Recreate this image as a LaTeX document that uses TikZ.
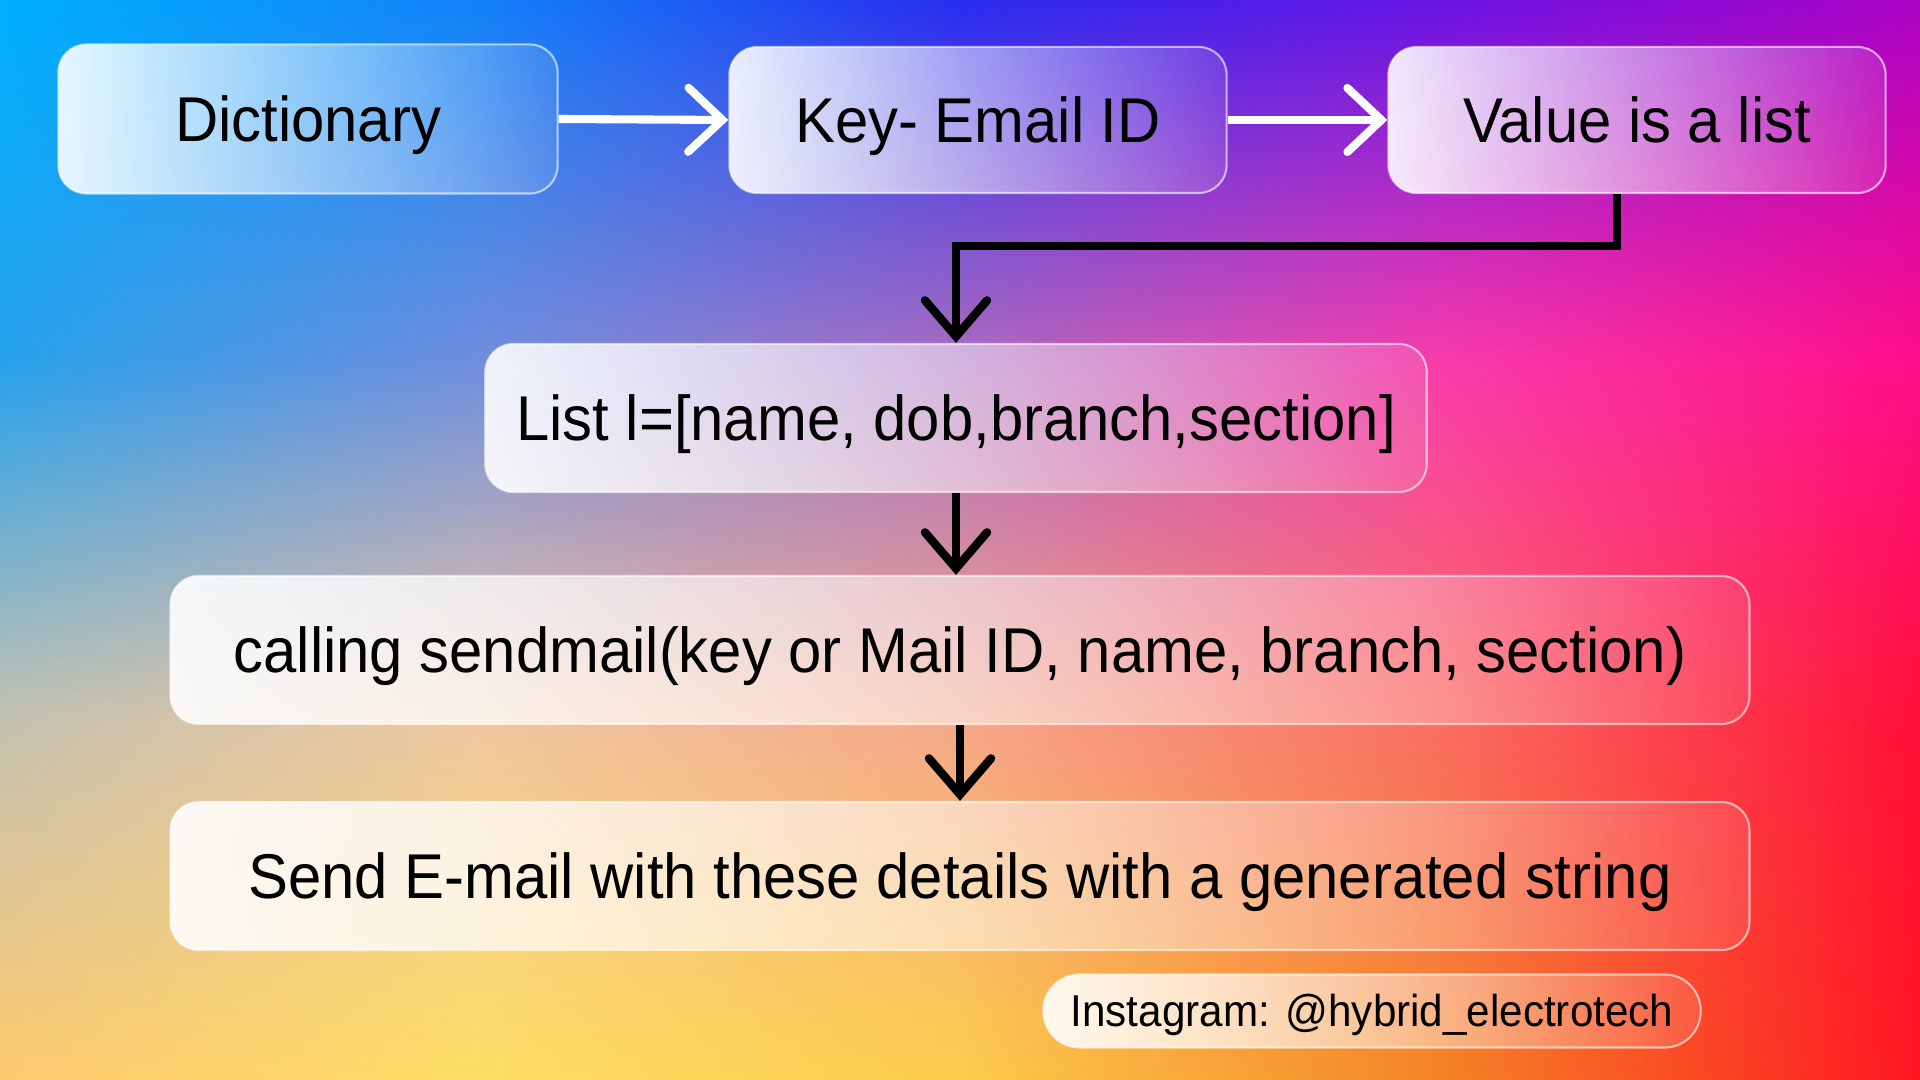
\documentclass[tikz,border=0pt]{standalone}
\usepackage{fontspec}
\setmainfont{Liberation Sans}[FakeStretch=0.945]
\usetikzlibrary{arrows.meta,fadings}

% background colour grid, columns x=0,480,...,1920 and rows y=0,360,720,1080
\definecolor{c00}{RGB}{0,176,255}
\definecolor{c10}{RGB}{18,130,248}
\definecolor{c20}{RGB}{40,45,240}
\definecolor{c30}{RGB}{105,20,228}
\definecolor{c40}{RGB}{172,4,198}
\definecolor{c01}{RGB}{38,162,236}
\definecolor{c11}{RGB}{112,142,222}
\definecolor{c21}{RGB}{170,108,192}
\definecolor{c31}{RGB}{248,60,172}
\definecolor{c41}{RGB}{255,14,138}
\definecolor{c02}{RGB}{196,194,178}
\definecolor{c12}{RGB}{240,200,160}
\definecolor{c22}{RGB}{246,168,138}
\definecolor{c32}{RGB}{250,110,98}
\definecolor{c42}{RGB}{255,16,56}
\definecolor{c03}{RGB}{255,202,112}
\definecolor{c13}{RGB}{255,222,100}
\definecolor{c23}{RGB}{252,205,75}
\definecolor{c33}{RGB}{245,132,36}
\definecolor{c43}{RGB}{255,22,34}

% one top-to-bottom shading per grid column
\foreach \i in {0,...,4}{
  \pgfdeclareverticalshading{col\i}{100bp}{color(0bp)=(c\i3); color(25bp)=(c\i3);
    color(41.67bp)=(c\i2); color(58.33bp)=(c\i1); color(75bp)=(c\i0); color(100bp)=(c\i0)}
}

\tikzfading[name=ramp, left color=transparent!100, right color=transparent!0]
\tikzfading[name=glassfade, left color=transparent!10, right color=transparent!90]

\tikzset{
  glass/.style={rounded corners=2.8mm, draw=white, draw opacity=0.6, line width=0.6pt,
    preaction={fill=white, path fading=glassfade}, text=black, align=center,
    font=\fontsize{18}{20}\selectfont, text height=12.9pt, text depth=0pt},
  whitearrow/.style={white, line width=2.3pt, -{Straight Barb[length=3.4mm, width=6.4mm, line cap=round]}},
  blackarrow/.style={black, line width=2.4pt, -{Straight Barb[length=3.6mm, width=6.2mm, line cap=round]}}
}

\begin{document}
\begin{tikzpicture}[x=0.01cm, y=-0.01cm]
	\useasboundingbox (0,0) rectangle (1920,1080);
	% background
	\foreach \i [evaluate=\i as \ni using int(\i+1)] in {0,...,3}{
	  \shade[shading=col\i] (\i*480-1,0) rectangle (\i*480+481,1080);
	  \shade[shading=col\ni, path fading=ramp] (\i*480,0) rectangle (\i*480+480,1080);
	}

	% boxes
	\node[glass, minimum width=4.99cm, minimum height=1.49cm] (dict) at (308,119) {Dictionary};
	\node[glass, minimum width=4.97cm, minimum height=1.46cm] (key) at (978,120) {Key- Email ID};
	\node[glass, minimum width=4.97cm, minimum height=1.46cm] (value) at (1637,120) {Value is a list};
	\node[glass, minimum width=9.41cm, minimum height=1.48cm] (list) at (956,418) {List l=[name, dob,branch,section]};
	\node[glass, minimum width=15.78cm, minimum height=1.48cm] (call) at (960,650) {calling sendmail(key or Mail ID, name, branch, section)};
	\node[glass, minimum width=15.78cm, minimum height=1.48cm] (send) at (960,876) {Send E-mail with these details with a generated string};
	\node[glass, rounded corners=3.6mm, minimum width=6.57cm, minimum height=0.73cm, text height=9pt, font=\fontsize{12.7}{14}\selectfont] (insta) at (1372,1011) {Instagram: @hybrid\_electrotech};

	% connectors
	\draw[whitearrow] (dict.east) -- (key.west);
	\draw[whitearrow] (key.east) -- (value.west);
	\coordinate (bend) at (1617,246);
	\draw[blackarrow] (value.south -| bend) -- (bend) -- (bend -| list.north) -- (list.north);
	\draw[blackarrow] (list.south) -- (list.south |- call.north);
	\draw[blackarrow] (call.south) -- (send.north);
\end{tikzpicture}
\end{document}
